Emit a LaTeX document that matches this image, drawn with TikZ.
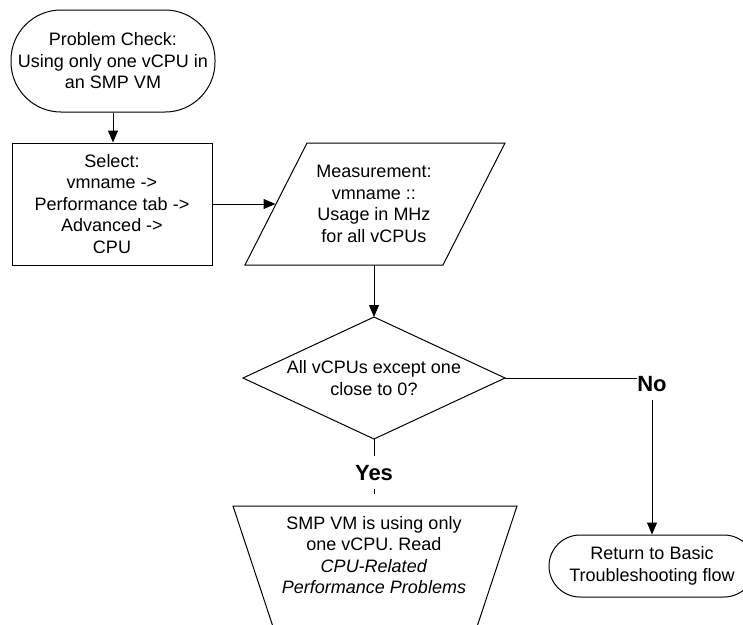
\documentclass[tikz,border=0pt]{standalone}
\usepackage{fontspec}
\setmainfont{Liberation Sans}
\usetikzlibrary{arrows.meta}
\begin{document}
\begin{tikzpicture}[x=1pt,y=-1pt,
  line width=1pt,
  txt/.style={align=center,font=\fontsize{18}{21.5}\selectfont,inner sep=0pt},
  lbl/.style={font=\fontsize{22}{26}\selectfont\bfseries,inner xsep=0pt,inner ysep=8pt,
              text height=16pt,text depth=0pt},
  terminal/.style={draw,txt,minimum width=#1},
  flow/.style={draw,-{Triangle[length=12pt,width=10pt]}}]
\useasboundingbox (0,0) rectangle (743,624);
\clip (0,0) rectangle (743,624);

% start terminal
\node[draw,txt,rounded corners=50pt,minimum width=204pt,minimum height=102pt]
  (start) at (113,61) {Problem Check:\\Using only one vCPU in\\an SMP VM};

% selection step
\node[draw,txt,minimum width=200pt,minimum height=122pt]
  (sel) at (112,204) {Select:\\vmname ->\\Performance tab ->\\Advanced ->\\CPU};

% measurement (data) parallelogram
\draw (307,143) -- (505,143) -- (443,265) -- (245,265) -- cycle;
\coordinate (meas-w) at (275.5,204);
\coordinate (meas-s) at (374,265);
\node[txt] (meas) at (374,204) {Measurement:\\vmname ::\\Usage in MHz\\for all vCPUs};

% decision
\draw (374,317) -- (505,378) -- (374,439) -- (243,378) -- cycle;
\coordinate (dia-n) at (374,317);
\coordinate (dia-e) at (505,378);
\coordinate (dia-s) at (374,439);
\node[txt] (dec) at (374,378) {All vCPUs except one\\close to 0?};

% result trapezoid
\draw (233,506) -- (517,506) -- (466,660) -- (284,660) -- cycle;
\node[txt] (res) at (374,555) {SMP VM is using only\\one vCPU. Read\\\textit{CPU-Related}\\\textit{Performance Problems}};

% return terminal
\node[draw,txt,rounded corners=31pt,minimum width=206pt,minimum height=62pt]
  (ret) at (652,566) {Return to Basic\\Troubleshooting flow};

% branch labels
\node[lbl] (no) at (652,383) {No};
\node[lbl] (yes) at (374,472) {Yes};
\coordinate (yes-end) at (374,494);

% connectors
\draw[flow] (start.south) -- (start.south |- sel.north);
\draw[flow] (sel.east) -- (meas-w);
\draw[flow] (meas-s) -- (dia-n);
\draw (dia-e) -- (dia-e -| no.west);
\draw[flow] (no.south) -- (ret.north);
\draw (dia-s) -- (yes.north);
\draw (yes.south) -- (yes-end);
\end{tikzpicture}
\end{document}
